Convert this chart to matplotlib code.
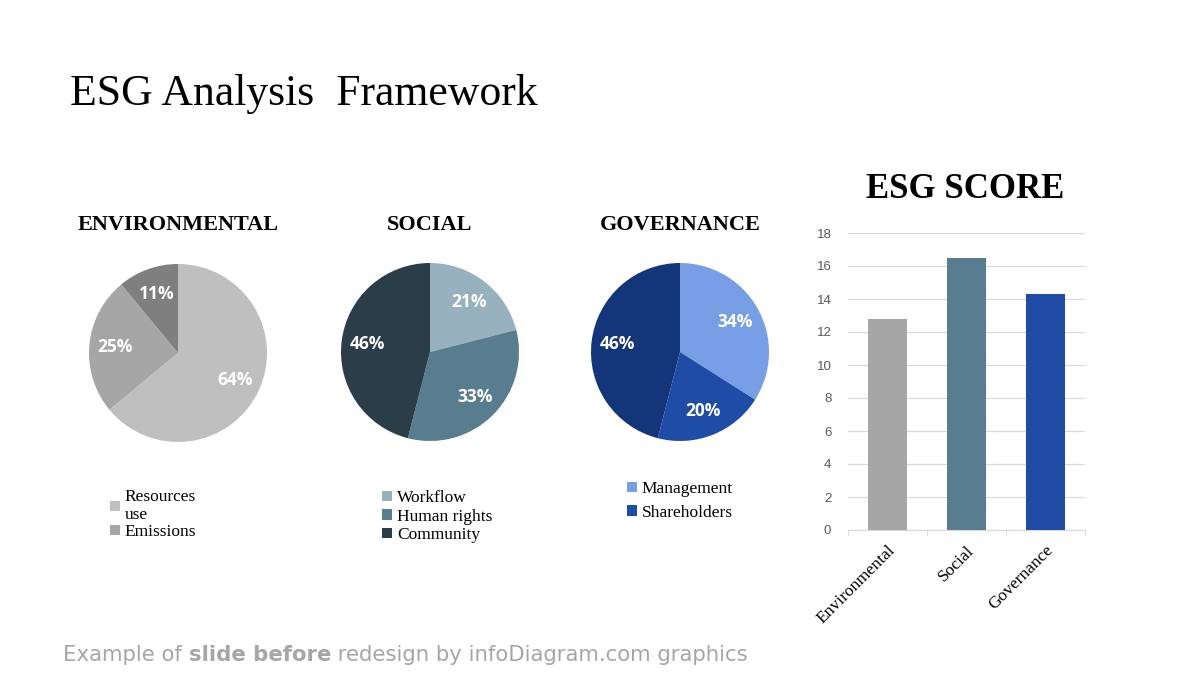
import matplotlib.pyplot as plt
from matplotlib.patches import Patch

# pie data
env_labels = ['Resources\nuse', 'Emissions']
env_values = [64, 25, 11]
env_colors = ['#bfbfbf', '#a6a6a6', '#7f7f7f']

soc_labels = ['Workflow', 'Human rights', 'Community']
soc_values = [21, 33, 46]
soc_colors = ['#97b1bf', '#587d8e', '#2b3d48']

gov_labels = ['Management', 'Shareholders']
gov_values = [34, 20, 46]
gov_colors = ['#789ee5', '#1f4ca6', '#15357a']

# bar data
score_cats = ['Environmental', 'Social', 'Governance']
score_vals = [12.8, 16.5, 14.3]
score_colors = ['#a6a6a6', '#587d8e', '#1f4ba5']

W, H = 1200, 675
fig = plt.figure(figsize=(12, 6.75), dpi=100)
fig.patch.set_facecolor('white')
serif = 'Liberation Serif'


def px_axes(x0, y0, x1, y1):
    # pixel box (top-left origin) -> figure axes
    return fig.add_axes([x0 / W, 1 - y1 / H, (x1 - x0) / W, (y1 - y0) / H])


fig.text(70 / W, 1 - 94 / H, 'ESG Analysis  Framework', family=serif,
         fontsize=31.5, va='center', ha='left')


def draw_pie(cx, cy, title, values, colors, labels, leg_xy, leg_spacing):
    r = 89
    ax = px_axes(cx - r, cy - r, cx + r, cy + r)
    wedges, _, autotexts = ax.pie(values, colors=colors, startangle=90,
                                  counterclock=False, autopct='%d%%',
                                  pctdistance=0.71, radius=1.0,
                                  wedgeprops=dict(linewidth=0))
    for t in autotexts:
        t.set_color('white')
        t.set_fontweight('bold')
        t.set_family('Open Sans')
        t.set_fontsize(12.5)
    ax.set_xlim(-1, 1)
    ax.set_ylim(-1, 1)
    ax.set_aspect('equal')
    fig.text(cx / W, 1 - 225 / H, title, family=serif, fontweight='bold',
             fontsize=16, ha='center', va='center')
    handles = [Patch(facecolor=c, edgecolor='none') for c in colors[:len(labels)]]
    fig.legend(handles, labels, loc='upper left',
               bbox_to_anchor=(leg_xy[0] / W, 1 - leg_xy[1] / H),
               frameon=False, prop=dict(family=serif, size=12.5),
               handlelength=0.55, handleheight=0.55, handletextpad=0.3,
               labelspacing=leg_spacing, borderpad=0, borderaxespad=0)


draw_pie(178, 353, 'ENVIRONMENTAL', env_values, env_colors, env_labels, (110, 489), 0.05)
draw_pie(430, 352, 'SOCIAL', soc_values, soc_colors, soc_labels, (382, 490), 0.15)
draw_pie(680, 352, 'GOVERNANCE', gov_values, gov_colors, gov_labels, (627, 481), 0.45)

# bar chart
fig.text(965 / W, 1 - 190 / H, 'ESG SCORE', family=serif, fontweight='bold',
         fontsize=25, ha='center', va='center')
bx = px_axes(848, 233, 1085, 530)
x = range(len(score_cats))
bx.bar(x, score_vals, width=0.49, color=score_colors, zorder=3)
bx.set_xlim(-0.5, 2.5)
bx.set_ylim(0, 18)
bx.set_yticks(range(0, 19, 2))
bx.grid(axis='y', color='#d9d9d9', linewidth=0.9, zorder=0)
for s in ['top', 'right', 'left']:
    bx.spines[s].set_visible(False)
bx.spines['bottom'].set_color('#d9d9d9')
bx.tick_params(axis='y', length=0, labelsize=9.5, labelcolor='#595959', pad=12)
for lab in bx.get_yticklabels():
    lab.set_family('Liberation Sans')
bx.set_xticks(list(x))
bx.set_xticklabels(score_cats, rotation=45, ha='right', rotation_mode='anchor',
                   family=serif, fontsize=12.5)
bx.tick_params(axis='x', length=0, pad=9)
bx.set_xticks([-0.5, 0.5, 1.5, 2.5], minor=True)
bx.tick_params(axis='x', which='minor', length=4, color='#d9d9d9')

footer = [('Example of ', 'normal'), ('slide before', 'bold'),
          (' redesign by infoDiagram.com graphics', 'normal')]
fig.canvas.draw()
xpos = 63 / W
for txt, wt in footer:
    t = fig.text(xpos, 1 - 655 / H, txt, color='#a6a6a6', fontsize=15.3,
                 family='DejaVu Sans', fontweight=wt, va='center', ha='left')
    bb = t.get_window_extent(renderer=fig.canvas.get_renderer())
    xpos += bb.width / W

fig.savefig('out.png', dpi=100, facecolor='white')
